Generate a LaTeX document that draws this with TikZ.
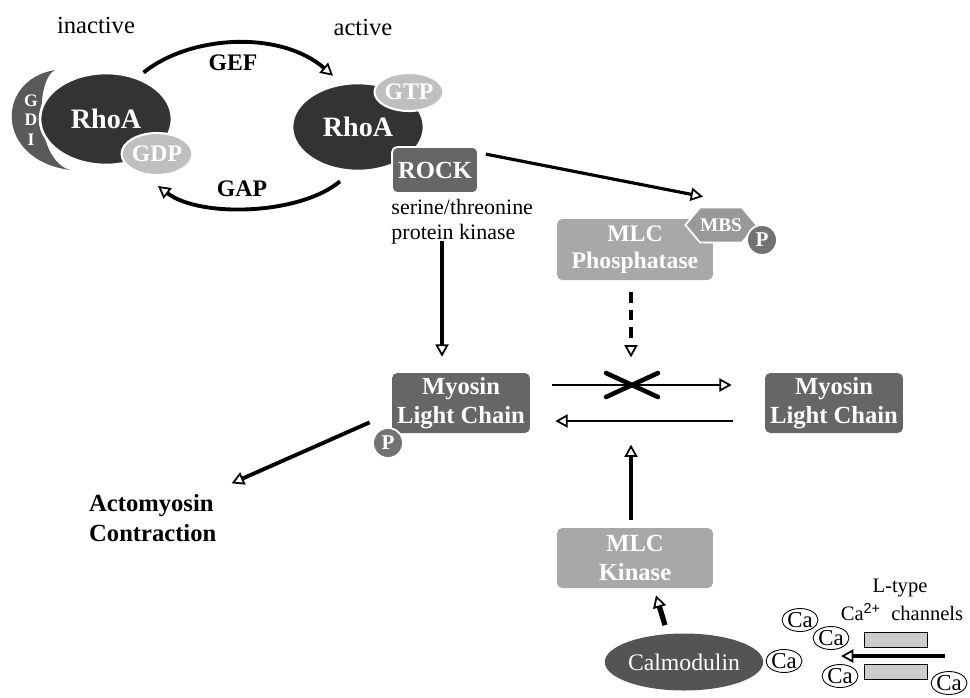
\documentclass[tikz,border=0pt]{standalone}
\usepackage{fontspec}
\setmainfont{Liberation Serif}
\setsansfont{Liberation Sans}
\usepackage{tikz}
\usetikzlibrary{shapes,arrows.meta,positioning,calc}
\definecolor{rhodark}{gray}{0.2}
\definecolor{gdigray}{gray}{0.35}
\definecolor{nucgray}{gray}{0.75}
\definecolor{rockgray}{gray}{0.4}
\definecolor{mlcgray}{gray}{0.66}
\definecolor{mbsgray}{gray}{0.6}
\definecolor{pgray}{gray}{0.45}
\definecolor{calmgray}{gray}{0.33}
\definecolor{changray}{gray}{0.8}

\begin{document}
\begin{tikzpicture}[
  x=0.02cm, y=-0.02cm,
  >={Triangle[open,length=7pt,width=7.5pt,line width=1pt]},
  arr/.style={draw, line width=1.8pt, ->},
  rho/.style={ellipse, fill=rhodark, draw=white, line width=1.5pt, text=white,
              inner sep=0pt, minimum width=2.64cm, minimum height=1.84cm,
              font=\fontsize{16}{18}\selectfont\bfseries},
  nuc/.style={ellipse, fill=nucgray, draw=white, line width=1.2pt, text=white,
              inner sep=0pt, minimum width=1.26cm, minimum height=0.84cm,
              font=\fontsize{13.5}{15}\selectfont\bfseries},
  kbox/.style={rectangle, rounded corners=3pt, text=white, align=center,
               inner sep=0pt, font=\fontsize{14}{16.5}\selectfont\bfseries},
  phos/.style={circle, fill=pgray, draw=white, line width=1pt, text=white,
               inner sep=0pt, minimum size=0.6cm,
               font=\fontsize{12}{14}\selectfont\bfseries},
  ion/.style={ellipse, draw, line width=0.5pt, inner sep=0pt,
              minimum width=0.66cm, minimum height=0.46cm,
              font=\fontsize{13}{14}\selectfont},
  chan/.style={rectangle, draw, fill=changray, line width=0.6pt, inner sep=0pt,
               minimum width=1.26cm, minimum height=0.3cm},
  lbl/.style={font=\fontsize{13.5}{16}\selectfont\bfseries},
  desc/.style={inner sep=0pt, align=left, font=\fontsize{12.5}{14.2}\selectfont},
]
  \useasboundingbox (0,0) rectangle (970,697);
  % STATES
  \node[font=\fontsize{14}{16}\selectfont] (inact-l) at (96,25) {inactive};
  \node[font=\fontsize{14}{16}\selectfont] (act-l) at (363,27) {active};
  % INACTIVE RHOA
  \fill[gdigray] (55,70) .. controls (-5,80) and (-5,160) .. (70,170)
                 .. controls (35,160) and (35,80) .. (55,70);
  \node[text=white, align=center, font=\fontsize{10}{11}\selectfont\bfseries] (gdi) at (31,120) {G\\D\\I};
  \node[rho] (rhoL) at (106,119) {RhoA};
  \node[nuc] (gdp) at (157,154) {GDP};
  % ACTIVE RHOA
  \node[rho, minimum height=1.76cm] (rhoR) at (358,127) {RhoA};
  \node[nuc, minimum height=0.76cm] (gtp) at (409,92) {GTP};
  \node[kbox, fill=rockgray, draw=white, line width=1pt,
        minimum width=1.72cm, minimum height=0.92cm] (rock) at (435,170) {ROCK};
  \node[desc, anchor=north west] (rock-d) at ($(rock.south west)+(0,5)$) {serine/threonine\\protein kinase};
  % GEF / GAP
  \draw[arr, line width=2.2pt] ($(rhoL.north east)+(-10,-13)$) .. controls (190,35) and (280,30) .. ($(rhoR.north)+(-25,-6)$);
  \node[lbl] (gef) at (233,63) {GEF};
  \draw[arr, line width=2.2pt] ($(rhoR.south)+(-18,9)$) .. controls (300,215) and (200,218) .. ($(gdp.south)+(1,10)$);
  \node[lbl] (gap) at (242,189) {GAP};
  % MLC PHOSPHATASE
  \node[kbox, fill=mlcgray, minimum width=3.12cm, minimum height=1.22cm,
        font=\fontsize{13.5}{15.4}\selectfont\bfseries] (mlcp) at (635,249.5) {MLC\\Phosphatase};
  \node[signal, signal to=west and east, signal pointer angle=100, fill=mbsgray,
        draw=white, line width=1pt, text=white, inner sep=0pt,
        minimum width=1.4cm, minimum height=0.7cm,
        font=\fontsize{11}{13}\selectfont\bfseries] (mbs) at (721,225) {MBS};
  \node[phos] (p-mbs) at (762,240) {P};
  \draw[arr] ($(rock.north east)+(7,8)$) -- ($(mbs.north)+(-18,-10)$);
  % MYOSIN LIGHT CHAIN
  \node[kbox, fill=rockgray, minimum width=2.76cm, minimum height=1.2cm] (myoL) at (461,403) {Myosin\\Light Chain};
  \node[phos] (p-myo) at (388,443) {P};
  \node[kbox, fill=rockgray, minimum width=2.76cm, minimum height=1.2cm] (myoR) at (834,403) {Myosin\\Light Chain};
  \draw[arr] ($(rock.south)+(7,47)$) -- ($(myoL.north)+(-19,-16)$);
  \draw[arr, line width=1.8pt, dash pattern=on 6pt off 4pt] ($(mlcp.south)+(-4,12)$) -- ($(mlcp.south)+(-4,77)$);
  \draw[arr, line width=1.6pt] ($(myoL.east)+(22,-18)$) -- ($(myoR.west)+(-33,-18)$);
  \draw[arr, line width=1.6pt] ($(myoR.west)+(-32,18)$) -- ($(myoL.east)+(25,18)$);
  \coordinate (block) at (632,385);
  \draw[line width=2.6pt, line cap=round] ($(block)+(-26,-12)$) -- ($(block)+(26,12)$)
        ($(block)+(-26,12)$) -- ($(block)+(26,-12)$);
  % CONTRACTION
  \node[lbl, font=\fontsize{14}{17}\selectfont\bfseries, align=left, anchor=west] (acto) at (83,518) {Actomyosin\\Contraction};
  \draw[arr, line width=2.2pt] ($(myoL.south west)+(-22,-11)$) -- ($(myoL.south west)+(-160,50)$);
  % MLC KINASE
  \node[kbox, fill=mlcgray, minimum width=3.12cm, minimum height=1.2cm] (mlck) at (635,558) {MLC\\Kinase};
  \draw[arr] ($(mlck.north)+(-4,-8)$) -- ($(mlck.north)+(-4,-83)$);
  \node[ellipse, fill=calmgray, text=white, inner sep=0pt, minimum width=2.96cm,
        minimum height=1.14cm, font=\fontsize{13.5}{15}\selectfont] (calm) at (684,662) {Calmodulin};
  \draw[arr, line width=3pt] ($(calm.north)+(-19,-8)$) -- ($(mlck.south)+(21,7)$);
  % CA CHANNELS
  \node[font=\fontsize{11.7}{13}\selectfont] (ltype) at (900,588) {L-type};
  \node[font=\fontsize{11.7}{13}\selectfont] (ca-ch) at (902,612) {Ca\textsuperscript{\sffamily 2+}\ \ channels};
  \node[chan] (chanT) at (896,640) {};
  \node[chan] (chanB) at (896,672) {};
  \draw[arr] ($(chanT.south east)+(17,8)$) -- ($(chanT.south west)+(-23,8)$);
  \node[ion] (ca1) at (800,620) {Ca};
  \node[ion] (ca2) at (831,638) {Ca};
  \node[ion] (ca3) at (784,661) {Ca};
  \node[ion] (ca4) at (840,676) {Ca};
  \node[ion] (ca5) at (949,683) {Ca};
\end{tikzpicture}
\end{document}
